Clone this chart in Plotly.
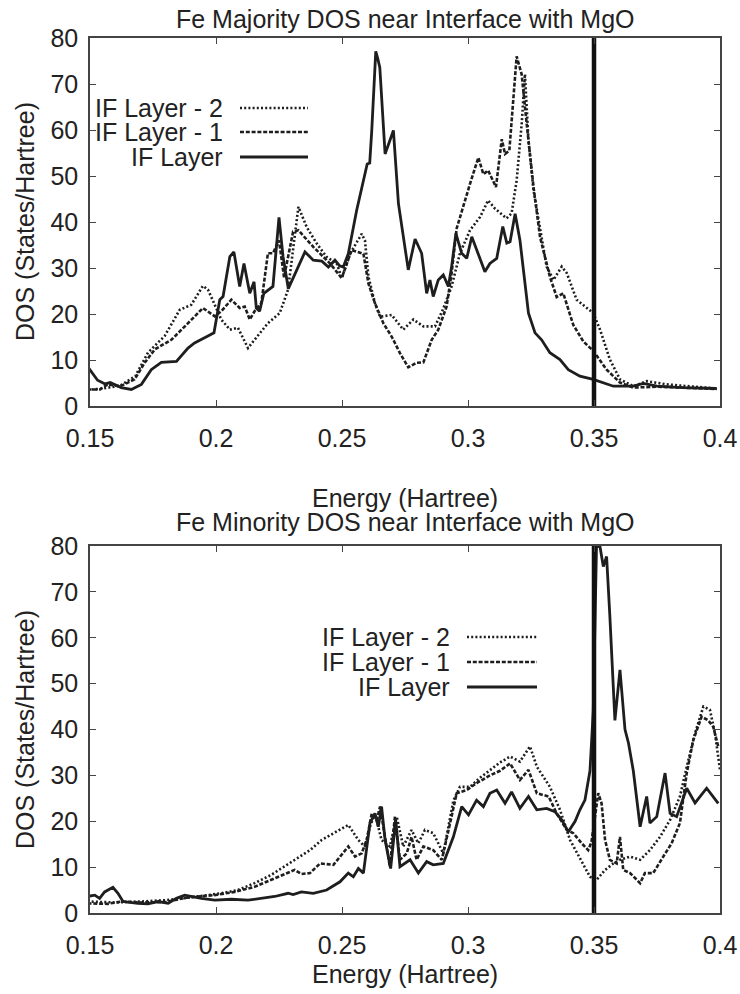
import plotly.graph_objects as go

# ---------------- data ----------------
maj_if_E = [0.1490, 0.1530, 0.1560, 0.1580, 0.1624, 0.1664, 0.1704, 0.1743, 0.1783, 0.1843, 0.1889, 0.1915,
            0.1968, 0.1992, 0.2015, 0.2028, 0.2055, 0.2071, 0.2094, 0.2111, 0.2134, 0.2151, 0.2160, 0.2173,
            0.2190, 0.2226, 0.2250, 0.2266, 0.2287, 0.2353, 0.2386, 0.2420, 0.2446, 0.2472, 0.2490, 0.2505,
            0.2525, 0.2558, 0.2600, 0.2610, 0.2618, 0.2634, 0.2642, 0.2650, 0.2671, 0.2704, 0.2724, 0.2763,
            0.2790, 0.2816, 0.2836, 0.2849, 0.2862, 0.2882, 0.2902, 0.2922, 0.2935, 0.2952, 0.2975, 0.2995,
            0.3015, 0.3041, 0.3067, 0.3087, 0.3114, 0.3138, 0.3154, 0.3167, 0.3187, 0.3206, 0.3226, 0.3240,
            0.3266, 0.3292, 0.3325, 0.3365, 0.3398, 0.3444, 0.3497, 0.3577, 0.3656, 0.3696, 0.3750, 0.3850,
            0.3987]
maj_if_dos = [8.6, 5.6, 4.8, 5.1, 4.0, 3.6, 4.7, 7.9, 9.5, 9.7, 12.6, 13.7,
              15.2, 15.9, 23.1, 23.8, 32.5, 33.5, 26.0, 31.0, 24.5, 27.0, 21.3, 20.6,
              24.5, 26.0, 41.0, 32.5, 25.5, 33.5, 31.7, 31.5, 30.2, 31.7, 30.5, 30.2,
              33.1, 42.5, 52.6, 52.8, 59.8, 77.1, 75.5, 73.6, 54.8, 59.9, 44.0, 29.6,
              36.3, 33.2, 24.5, 27.4, 23.8, 27.4, 28.5, 26.0, 30.3, 37.5, 33.2, 32.1,
              36.8, 33.2, 29.2, 31.0, 32.1, 39.0, 35.4, 35.7, 41.8, 36.1, 27.4, 20.2,
              15.9, 14.4, 11.6, 10.1, 7.9, 6.5, 5.8, 4.3, 4.3, 4.9, 4.3, 4.0,
              3.8]

maj_if1_E = [0.1490, 0.1540, 0.1570, 0.1620, 0.1677, 0.1717, 0.1757, 0.1823, 0.1889, 0.1948, 0.1995, 0.2021,
             0.2061, 0.2094, 0.2114, 0.2134, 0.2153, 0.2180, 0.2206, 0.2226, 0.2250, 0.2270, 0.2306, 0.2327,
             0.2386, 0.2452, 0.2499, 0.2538, 0.2585, 0.2605, 0.2631, 0.2664, 0.2697, 0.2730, 0.2763, 0.2796,
             0.2823, 0.2856, 0.2882, 0.2915, 0.2935, 0.2955, 0.3008, 0.3041, 0.3061, 0.3080, 0.3111, 0.3134,
             0.3147, 0.3164, 0.3193, 0.3213, 0.3233, 0.3260, 0.3286, 0.3325, 0.3352, 0.3378, 0.3418, 0.3458,
             0.3497, 0.3550, 0.3603, 0.3656, 0.3750, 0.3987]
maj_if1_dos = [3.6, 3.6, 4.7, 4.3, 5.8, 9.4, 12.3, 14.4, 18.0, 21.3, 19.5, 20.6,
               23.1, 21.3, 21.6, 18.8, 20.6, 22.4, 33.2, 33.2, 36.0, 28.0, 37.9, 38.2,
               34.6, 31.0, 27.8, 33.9, 33.1, 26.6, 22.3, 18.0, 15.1, 11.5, 8.4, 9.4,
               9.5, 14.4, 16.6, 21.6, 28.9, 38.6, 48.3, 54.0, 50.4, 51.2, 47.6, 58.0,
               54.8, 55.5, 76.0, 72.1, 61.3, 47.6, 36.7, 28.1, 23.7, 24.5, 17.6, 14.0,
               12.0, 7.9, 5.1, 4.0, 4.2, 3.7]

maj_if2_E = [0.1490, 0.1550, 0.1620, 0.1680, 0.1730, 0.1796, 0.1856, 0.1902, 0.1948, 0.1968, 0.2021, 0.2055,
             0.2087, 0.2127, 0.2153, 0.2206, 0.2253, 0.2286, 0.2327, 0.2360, 0.2400, 0.2439, 0.2479, 0.2499,
             0.2532, 0.2578, 0.2591, 0.2605, 0.2631, 0.2651, 0.2697, 0.2743, 0.2783, 0.2823, 0.2869, 0.2900,
             0.2935, 0.2968, 0.3008, 0.3048, 0.3080, 0.3107, 0.3153, 0.3173, 0.3193, 0.3213, 0.3226, 0.3240,
             0.3260, 0.3286, 0.3312, 0.3339, 0.3372, 0.3392, 0.3431, 0.3497, 0.3524, 0.3563, 0.3603, 0.3656,
             0.3709, 0.3788, 0.3987]
maj_if2_dos = [3.5, 3.8, 4.4, 6.5, 11.6, 15.2, 20.9, 22.0, 26.1, 25.3, 18.8, 16.6,
               17.0, 12.6, 14.4, 18.0, 20.2, 25.3, 43.3, 38.9, 35.3, 32.4, 31.0, 27.8,
               33.1, 37.4, 36.0, 28.1, 22.3, 19.4, 19.8, 16.6, 18.8, 17.3, 17.3, 20.9,
               26.0, 33.2, 38.2, 41.1, 44.7, 42.9, 40.8, 41.9, 49.0, 61.3, 72.1, 57.7,
               46.9, 39.0, 30.3, 27.4, 30.3, 28.9, 23.1, 20.2, 16.6, 10.1, 5.8, 4.3,
               5.4, 4.7, 3.8]

min_if_E = [0.1490, 0.1519, 0.1538, 0.1558, 0.1591, 0.1611, 0.1631, 0.1690, 0.1730, 0.1770, 0.1810, 0.1843,
            0.1876, 0.1902, 0.1942, 0.1995, 0.2061, 0.2127, 0.2180, 0.2233, 0.2286, 0.2306, 0.2339, 0.2386,
            0.2439, 0.2492, 0.2525, 0.2545, 0.2565, 0.2585, 0.2611, 0.2631, 0.2644, 0.2657, 0.2671, 0.2693,
            0.2713, 0.2730, 0.2770, 0.2803, 0.2836, 0.2862, 0.2902, 0.2942, 0.2975, 0.3002, 0.3034, 0.3061,
            0.3087, 0.3114, 0.3147, 0.3173, 0.3206, 0.3240, 0.3273, 0.3312, 0.3345, 0.3372, 0.3398, 0.3425,
            0.3444, 0.3464, 0.3484, 0.3497, 0.3510, 0.3524, 0.3537, 0.3550, 0.3563, 0.3583, 0.3603, 0.3623,
            0.3637, 0.3656, 0.3683, 0.3709, 0.3722, 0.3749, 0.3782, 0.3802, 0.3828, 0.3868, 0.3901, 0.3947,
            0.3993]
min_if_dos = [3.6, 3.9, 3.2, 4.6, 5.6, 4.3, 2.5, 2.1, 2.0, 2.5, 2.1, 3.2,
              3.9, 3.6, 3.2, 2.8, 3.0, 2.8, 3.2, 3.6, 4.3, 4.0, 4.6, 4.3,
              5.0, 6.8, 8.7, 7.9, 9.7, 8.7, 19.6, 21.7, 18.8, 23.2, 15.9, 9.7,
              20.3, 10.1, 11.6, 8.7, 11.2, 10.5, 10.8, 16.6, 23.2, 21.4, 24.6, 23.2,
              26.1, 26.8, 23.9, 26.4, 22.8, 25.4, 22.5, 22.8, 22.1, 20.3, 17.7, 20.0,
              22.5, 24.6, 31.0, 44.0, 80.0, 79.8, 75.5, 77.7, 64.6, 42.0, 53.0, 40.0,
              37.0, 31.0, 18.8, 25.4, 19.6, 21.0, 30.5, 21.7, 21.0, 27.2, 24.0, 27.2,
              23.9]

min_if1_E = [0.1490, 0.1570, 0.1624, 0.1700, 0.1800, 0.1889, 0.1995, 0.2074, 0.2153, 0.2219, 0.2286, 0.2312,
             0.2339, 0.2373, 0.2413, 0.2466, 0.2525, 0.2552, 0.2578, 0.2598, 0.2618, 0.2638, 0.2651, 0.2671,
             0.2690, 0.2710, 0.2730, 0.2757, 0.2776, 0.2796, 0.2823, 0.2862, 0.2896, 0.2929, 0.2955, 0.2995,
             0.3034, 0.3087, 0.3127, 0.3167, 0.3206, 0.3240, 0.3273, 0.3320, 0.3352, 0.3392, 0.3418, 0.3451,
             0.3477, 0.3490, 0.3517, 0.3530, 0.3544, 0.3563, 0.3590, 0.3603, 0.3616, 0.3643, 0.3683, 0.3702,
             0.3735, 0.3775, 0.3808, 0.3841, 0.3868, 0.3894, 0.3927, 0.3953, 0.3973, 0.3993]
min_if1_dos = [2.1, 2.0, 2.5, 2.3, 2.4, 3.4, 3.9, 4.6, 5.7, 7.2, 8.7, 9.4,
               8.5, 8.7, 10.8, 10.5, 14.5, 12.3, 13.0, 15.9, 21.7, 20.3, 23.2, 16.6,
               10.1, 21.0, 11.6, 13.0, 16.6, 11.6, 14.5, 13.7, 11.6, 19.6, 26.1, 26.8,
               28.3, 30.0, 31.0, 32.6, 29.0, 31.2, 26.1, 25.4, 21.7, 18.1, 17.4, 15.2,
               13.7, 15.5, 26.1, 23.9, 15.9, 11.6, 10.8, 16.6, 9.4, 8.7, 6.5, 8.7,
               8.7, 12.3, 15.2, 19.6, 30.5, 37.7, 42.8, 42.0, 40.6, 36.3]

min_if2_E = [0.1490, 0.1600, 0.1700, 0.1800, 0.1900, 0.2021, 0.2087, 0.2153, 0.2219, 0.2272, 0.2312, 0.2373,
             0.2419, 0.2466, 0.2525, 0.2565, 0.2591, 0.2611, 0.2631, 0.2657, 0.2690, 0.2717, 0.2743, 0.2776,
             0.2803, 0.2829, 0.2862, 0.2902, 0.2942, 0.2968, 0.3008, 0.3048, 0.3094, 0.3127, 0.3167, 0.3206,
             0.3246, 0.3273, 0.3325, 0.3365, 0.3405, 0.3444, 0.3484, 0.3510, 0.3544, 0.3577, 0.3603, 0.3643,
             0.3683, 0.3722, 0.3762, 0.3802, 0.3841, 0.3868, 0.3901, 0.3934, 0.3960, 0.3980, 0.4000]
min_if2_dos = [2.5, 2.3, 2.5, 2.8, 3.4, 4.3, 5.0, 6.5, 8.3, 10.2, 11.6, 13.7,
               15.9, 17.4, 19.2, 15.9, 14.5, 18.8, 21.7, 15.9, 14.5, 21.0, 14.5, 18.1,
               15.2, 18.1, 17.4, 13.0, 24.5, 27.5, 27.5, 29.5, 31.5, 32.8, 34.1, 33.0,
               36.3, 31.9, 27.5, 22.5, 15.9, 12.0, 7.9, 7.2, 9.4, 10.8, 11.6, 12.3,
               11.6, 13.7, 16.6, 20.3, 25.4, 31.9, 39.2, 45.0, 44.3, 39.2, 31.2]

fermi_energy = 0.35
series_names = ["IF Layer - 2", "IF Layer - 1", "IF Layer"]
panel_titles = ["Fe Majority DOS near Interface with MgO", "Fe Minority DOS near Interface with MgO"]
x_title = "Energy (Hartree)"
y_title = "DOS (States/Hartree)"
x_range = [0.15, 0.4]
y_range = [0, 80]

# ---------------- styling ----------------
INK = "#1e1e1e"
AXIS = "#444444"
FONT = "Liberation Sans, Arial, Helvetica, sans-serif"
FS = 25
styles = {
    "IF Layer - 2": dict(color=INK, width=2.6, dash="2px,2.2px"),
    "IF Layer - 1": dict(color=INK, width=2.6, dash="4px,1.8px"),
    "IF Layer": dict(color=INK, width=2.8, dash="solid"),
}

W, H = 740, 994
ML, MT = 90, 38
MB = H - 913
MR = W - 720
PW, PH = W - ML - MR, H - MT - MB


def px_x(p):
    return (p - ML) / PW


def px_y(p):
    return (H - MB - p) / PH


fig = go.Figure()

panels = [
    ("x", "y", [(maj_if2_E, maj_if2_dos), (maj_if1_E, maj_if1_dos), (maj_if_E, maj_if_dos)]),
    ("x2", "y2", [(min_if2_E, min_if2_dos), (min_if1_E, min_if1_dos), (min_if_E, min_if_dos)]),
]
for xa, ya, data in panels:
    for name, (ex, dv) in zip(series_names, data):
        fig.add_trace(go.Scatter(x=ex, y=dv, mode="lines", name=name, xaxis=xa, yaxis=ya,
                                 line=styles[name], showlegend=False, hoverinfo="skip"))
    fig.add_trace(go.Scatter(x=[fermi_energy, fermi_energy], y=y_range, mode="lines", xaxis=xa, yaxis=ya,
                             line=dict(color="#111111", width=4.5), showlegend=False, hoverinfo="skip"))

axis_common = dict(showline=True, linecolor=AXIS, linewidth=1.5, mirror="ticks", ticks="inside",
                   ticklen=6, tickwidth=1.3, tickcolor=AXIS, showgrid=False, zeroline=False,
                   tickfont=dict(family=FONT, size=FS, color="#222222"))

top_dom = [px_y(406), 1.0]
bot_dom = [0.0, px_y(546)]
fig.update_layout(
    xaxis=dict(domain=[0, 1], range=x_range, dtick=0.05, anchor="y", ticklabelstandoff=9, **axis_common),
    yaxis=dict(domain=top_dom, range=y_range, dtick=10, anchor="x", ticklabelstandoff=5, **axis_common),
    xaxis2=dict(domain=[0, 1], range=x_range, dtick=0.05, anchor="y2", ticklabelstandoff=9, **axis_common),
    yaxis2=dict(domain=bot_dom, range=y_range, dtick=10, anchor="x2", ticklabelstandoff=5, **axis_common),
)

ann = []
shapes = []
tfont = dict(family=FONT, size=FS, color="#222222")
# panel titles
ann.append(dict(text=panel_titles[0], x=0.5, y=px_y(19), xref="paper", yref="paper",
                showarrow=False, xanchor="center", yanchor="middle", font=tfont))
ann.append(dict(text=panel_titles[1], x=0.5, y=px_y(522), xref="paper", yref="paper",
                showarrow=False, xanchor="center", yanchor="middle", font=tfont))
# axis titles
for yc in (498, 974):
    ann.append(dict(text=x_title, x=0.5, y=px_y(yc), xref="paper", yref="paper",
                    showarrow=False, xanchor="center", yanchor="middle", font=tfont))
for yc in (222, 730):
    ann.append(dict(text=y_title, x=px_x(25), y=px_y(yc), xref="paper", yref="paper", textangle=-90,
                    showarrow=False, xanchor="center", yanchor="middle", font=tfont))

# legends (label on the left, line sample on the right)
legend_specs = [
    (225, 240, 308, [108, 132, 157]),
    (452, 467, 537, [637, 662, 687]),
]
for tx, l0, l1, rows in legend_specs:
    for name, yr in zip(series_names, rows):
        ann.append(dict(text=name, x=px_x(tx), y=px_y(yr), xref="paper", yref="paper",
                        showarrow=False, xanchor="right", yanchor="middle", font=tfont))
        shapes.append(dict(type="line", xref="paper", yref="paper", x0=px_x(l0), x1=px_x(l1),
                           y0=px_y(yr), y1=px_y(yr), line=styles[name]))

fig.update_layout(
    width=W, height=H, margin=dict(l=ML, r=MR, t=MT, b=MB, autoexpand=False),
    autosize=False,
    paper_bgcolor="white", plot_bgcolor="white",
    annotations=ann, shapes=shapes, showlegend=False,
    font=dict(family=FONT, size=FS, color="#222222"),
)

fig.write_html(
    "out.html",
    config={"displayModeBar": False, "responsive": False},
    post_script="document.body.style.margin='0px';document.documentElement.style.overflow='hidden';",
)
